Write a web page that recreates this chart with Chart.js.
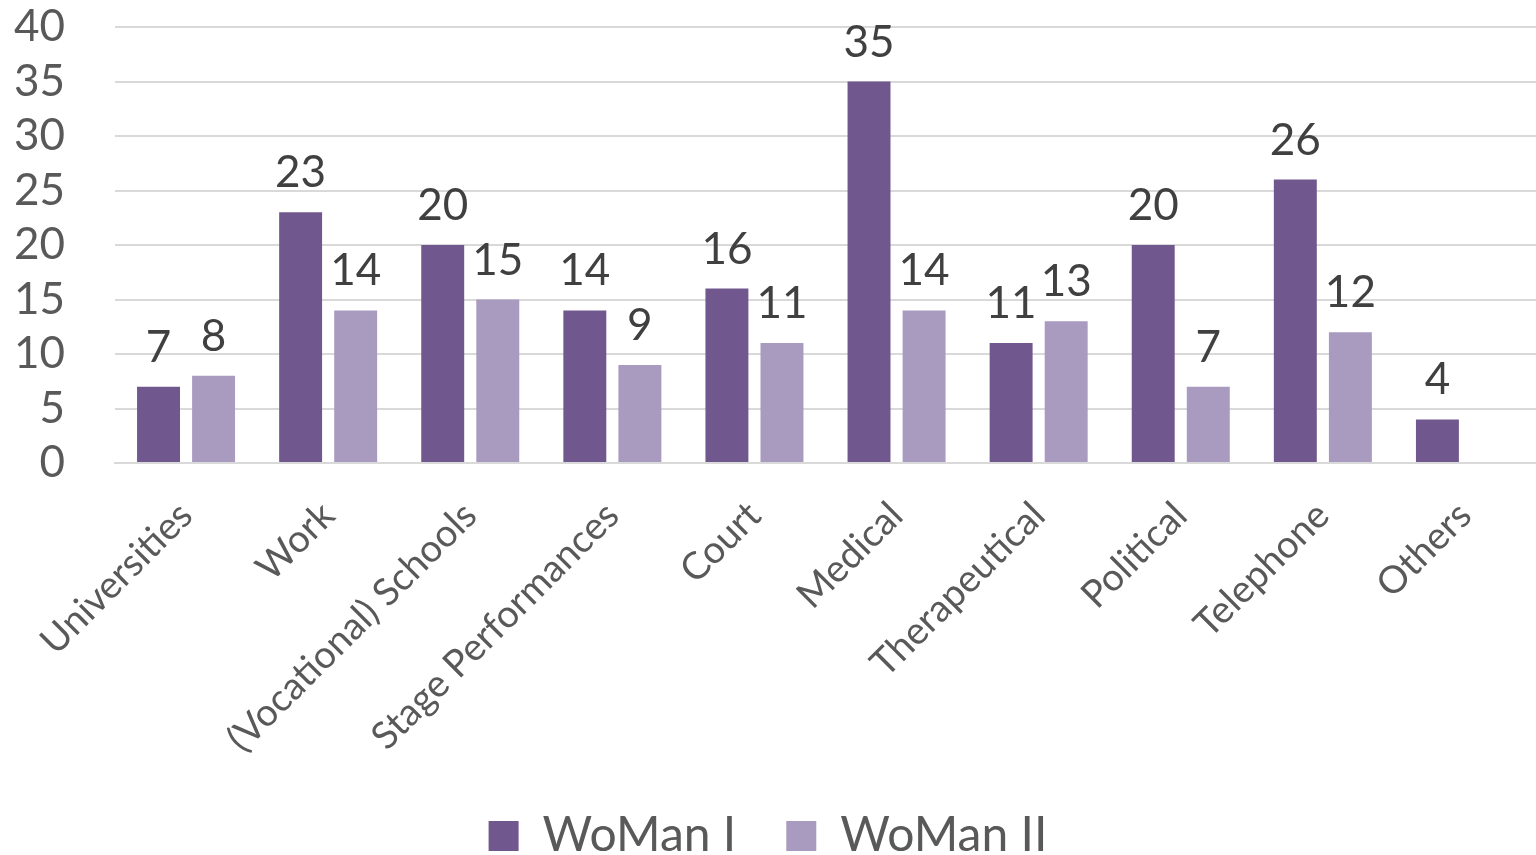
<!DOCTYPE html>
<html>
<head>
<meta charset="utf-8">
<script src="https://cdn.jsdelivr.net/npm/chart.js@4/dist/chart.umd.min.js"></script>
<style>
  html, body { margin: 0; padding: 0; background: #fff; }
  #wrap { width: 1536px; height: 855px; position: relative; }
</style>
</head>
<body>
<div id="wrap"><canvas id="myChart"></canvas></div>
<script>
const categories = ['Universities', 'Work', '(Vocational) Schools', 'Stage Performances', 'Court', 'Medical', 'Therapeutical', 'Political', 'Telephone', 'Others'];
const woman1 = [7, 23, 20, 14, 16, 35, 11, 20, 26, 4];
const woman2 = [8, 14, 15, 9, 11, 14, 13, 7, 12, null];
const yTicks = [0, 5, 10, 15, 20, 25, 30, 35, 40];

const fontFamily = 'Lato, "Open Sans", sans-serif';

// draws the value above each bar
const valueLabels = {
    id: 'valueLabels',
    afterDatasetsDraw(chart) {
        const c = chart.ctx;
        c.save();
        c.font = '44px ' + fontFamily;
        c.fillStyle = '#404040';
        c.textAlign = 'center';
        c.textBaseline = 'alphabetic';
        chart.data.datasets.forEach((ds, i) => {
            const meta = chart.getDatasetMeta(i);
            meta.data.forEach((bar, j) => {
                const v = ds.data[j];
                if (v === null || v === undefined) return;
                c.fillText(String(v), bar.x, bar.y - 25);
            });
        });
        c.restore();
    }
};

const ctx = document.getElementById('myChart').getContext('2d');
const myChart = new Chart(ctx, {
    type: 'bar',
    data: {
        labels: categories,
        datasets: [{
            label: 'WoMan I',
            data: woman1,
            backgroundColor: '#70588F',
            borderWidth: 0
        },
        {
            label: 'WoMan II',
            data: woman2,
            backgroundColor: '#A99ABF',
            borderWidth: 0
        }]
    },
    options: {
        responsive: true,
        maintainAspectRatio: false,
        animation: false,
        datasets: {
            bar: {
                categoryPercentage: 0.775,
                barPercentage: 0.78
            }
        },
        layout: {
            padding: { top: 27, right: 0, left: 0, bottom: -15 }
        },
        plugins: {
            legend: {
                position: 'bottom',
                labels: {
                    color: '#595959',
                    font: { family: fontFamily, size: 48 },
                    boxWidth: 30,
                    boxHeight: 30,
                    padding: 50
                }
            },
            tooltip: { enabled: false }
        },
        scales: {
            x: {
                grid: { display: false },
                border: { color: '#D9D9D9', width: 2 },
                ticks: {
                    color: '#595959',
                    font: { family: fontFamily, size: 38 },
                    minRotation: 45,
                    maxRotation: 45,
                    autoSkip: false,
                    padding: 22
                },
                afterFit(scale) {
                    scale.height = 299;
                    scale.paddingLeft = 0;
                    scale.paddingRight = 0;
                }
            },
            y: {
                min: 0,
                max: 40,
                afterBuildTicks(axis) {
                    axis.ticks = yTicks.map(v => ({ value: v }));
                },
                grid: { color: '#D9D9D9', lineWidth: 2, drawTicks: false },
                border: { display: false },
                ticks: {
                    color: '#595959',
                    font: { family: fontFamily, size: 44 },
                    padding: 50,
                    autoSkip: false,
                    stepSize: 5
                },
                afterFit(scale) {
                    scale.width = 115;
                    scale.paddingTop = 0;
                    scale.paddingBottom = 0;
                }
            }
        }
    },
    plugins: [valueLabels]
});
</script>
</body>
</html>
